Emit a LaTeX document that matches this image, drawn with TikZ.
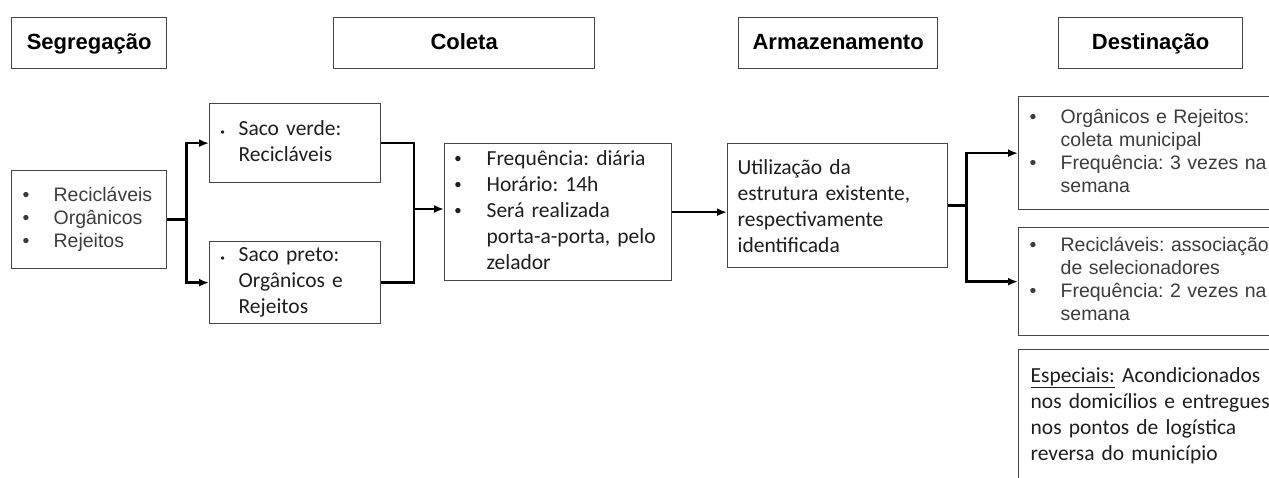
\documentclass[tikz,border=0pt]{standalone}
\usepackage{fontspec}
\setmainfont{Carlito}
\newfontfamily\arialf{Liberation Sans}
\usepackage{tikz}
\usetikzlibrary{arrows.meta}
\frenchspacing

\definecolor{boxline}{RGB}{70,70,70}
\definecolor{graytxt}{RGB}{60,60,60}
\definecolor{darktxt}{RGB}{30,30,30}

\tikzset{
  head/.style={draw=boxline, line width=1.3pt, anchor=north west, inner sep=0pt,
    minimum height=51pt, text height=16pt, text depth=4pt, text=black,
    font=\arialf\bfseries\fontsize{22}{26}\selectfont},
  stage/.style={draw=boxline, line width=1.3pt, anchor=north west, inner ysep=0pt, align=left},
  arialtxt/.style={text=graytxt, font=\arialf\fontsize{19.5}{23}\selectfont},
  calitxt/.style={text=darktxt, font=\fontsize{21.5}{26}\selectfont},
  link/.style={line width=2.4pt},
  flow/.style={link, -{Latex[length=10pt,width=8pt]}}
}
\newcommand{\bul}{{\arialf\fontsize{19.5}{23}\selectfont •}}
\newcommand{\smalldot}{\raisebox{-1pt}{\arialf\fontsize{12}{12}\selectfont •}}

\begin{document}
\begin{tikzpicture}[x=1pt,y=1pt,yscale=-1]
    \clip (0,0) rectangle (1269,477);

    % Header boxes
    \node [head, minimum width=155pt] (hseg) at (11,17) {Segregação};
    \node [head, minimum width=261pt] (hcol) at (333,17) {Coleta};
    \node [head, minimum width=199pt] (harm) at (738,17) {Armazenamento};
    \node [head, minimum width=184pt] (hdes) at (1058,17) {Destinação};

    % Segregation
    \node [stage, arialtxt, inner xsep=11pt, text width=133pt, minimum height=98pt] (segl) at (11,170)
      {\begin{tabular}{@{}p{31pt}@{}l@{}} \bul & Recicláveis\\ \bul & Orgânicos\\ \bul & Rejeitos\end{tabular}};
    % Bags
    \node [stage, calitxt, inner xsep=11pt, text width=149pt, minimum height=79pt] (sacoV) at (209,103)
      {\begin{tabular}{@{}p{18pt}@{}l@{}} \smalldot & Saco verde:\\ & Recicláveis\end{tabular}};
    \node [stage, calitxt, inner xsep=11pt, text width=149pt, minimum height=82pt] (sacoP) at (209,241)
      {\begin{tabular}{@{}p{18pt}@{}l@{}} \smalldot & Saco preto:\\ & Orgânicos e\\ & Rejeitos\end{tabular}};
    % Collection
    \node [stage, calitxt, inner xsep=10pt, text width=207pt, minimum height=137pt] (col) at (444,143)
      {\begin{tabular}{@{}p{32pt}@{}l@{}} \bul & Frequência: diária\\ \bul & Horário: 14h\\ \bul & Será realizada\\ & porta-a-porta, pelo\\ & zelador\end{tabular}};
    % Storage
    \node [stage, calitxt, inner xsep=10pt, text width=200pt, minimum height=124pt] (arm) at (727,143)
      {Utilização da\\ estrutura existente,\\ respectivamente\\ identificada};
    % Destination
    \node [stage, arialtxt, inner xsep=11pt, text width=260pt, minimum height=113pt] (des1) at (1018,96)
      {\begin{tabular}{@{}p{31pt}@{}l@{}} \bul & Orgânicos e Rejeitos:\\ & coleta municipal\\ \bul & Frequência: 3 vezes na\\ & semana\end{tabular}};
    \node [stage, arialtxt, inner xsep=11pt, text width=260pt, minimum height=108pt] (des2) at (1018,227)
      {\begin{tabular}{@{}p{31pt}@{}l@{}} \bul & Recicláveis: associação\\ & de selecionadores\\ \bul & Frequência: 2 vezes na\\ & semana\end{tabular}};
    \node [stage, calitxt, inner xsep=12pt, text width=258pt, minimum height=132pt] (esp) at (1018,349)
      {\underline{Especiais:} Acondicionados\\ nos domicílios e entregues\\ nos pontos de logística\\ reversa do município};

    % Connectors
    \coordinate (j1) at ([xshift=19pt]segl.east);
    \draw [link] (segl.east) -- (j1);
    \draw [flow] (j1) |- (sacoV.west);
    \draw [flow] (j1) |- (sacoP.west);
    \coordinate (j2) at (414,209);
    \draw [link] (sacoV.east) -| (j2);
    \draw [link] (sacoP.east) -| (j2);
    \draw [flow] (j2) -- (j2 -| col.west);
    \draw [flow] (col.east) -- (col.east -| arm.west);
    \coordinate (j3) at ([xshift=18pt]arm.east);
    \draw [link] (arm.east) -- (j3);
    \draw [flow] (j3) |- (des1.west);
    \draw [flow] (j3) |- (des2.west);
\end{tikzpicture}
\end{document}
